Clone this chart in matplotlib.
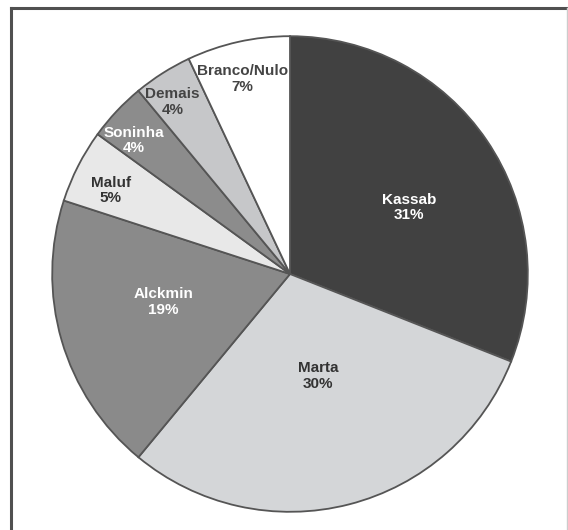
import matplotlib
matplotlib.use("Agg")
import matplotlib.pyplot as plt
from matplotlib.lines import Line2D

categories = ["Kassab", "Marta", "Alckmin", "Maluf", "Soninha", "Demais", "Branco/Nulo"]
values = [31, 30, 19, 5, 4, 4, 7]
colors = ["#414141", "#d4d6d8", "#8a8a8a", "#e8e8e8", "#8c8c8c", "#c6c7c9", "#ffffff"]
text_colors = ["white", "#333333", "white", "#333333", "white", "#444444", "#444444"]
label_pos = [(0.502, 0.28), (0.117, -0.43), (-0.531, -0.117), (-0.753, 0.351),
             (-0.657, 0.561), (-0.494, 0.724), (-0.2, 0.82)]

plt.rcParams['font.family'] = ['Liberation Sans', 'DejaVu Sans']

fig = plt.figure(figsize=(5.68, 5.30), dpi=100)
fig.patch.set_facecolor("white")

W, H = 568, 530
cx, cy, r = 290, 274, 239
ax = fig.add_axes([(cx - r) / W, (H - cy - r) / H, 2 * r / W, 2 * r / H])
ax.pie(values, colors=colors, startangle=90, counterclock=False, radius=1,
       wedgeprops=dict(edgecolor="#555555", linewidth=1.3))
ax.set_xlim(-1.005, 1.005)
ax.set_ylim(-1.005, 1.005)
ax.axis("off")

for cat, v, tc, (x, y) in zip(categories, values, text_colors, label_pos):
    ax.text(x, y, f"{cat}\n{v}%", ha="center", va="center", fontsize=11,
            fontweight="bold", color=tc, linespacing=1.15)

# frame
fig.add_artist(Line2D([11 / W, 567 / W], [1 - 8 / H, 1 - 8 / H], color="#505050", lw=2.2))
fig.add_artist(Line2D([11 / W, 11 / W], [0, 1 - 8 / H], color="#505050", lw=2.2))
fig.add_artist(Line2D([567 / W, 567 / W], [0, 1 - 8 / H], color="#cccccc", lw=1.0))

fig.savefig("out.png", dpi=100)
